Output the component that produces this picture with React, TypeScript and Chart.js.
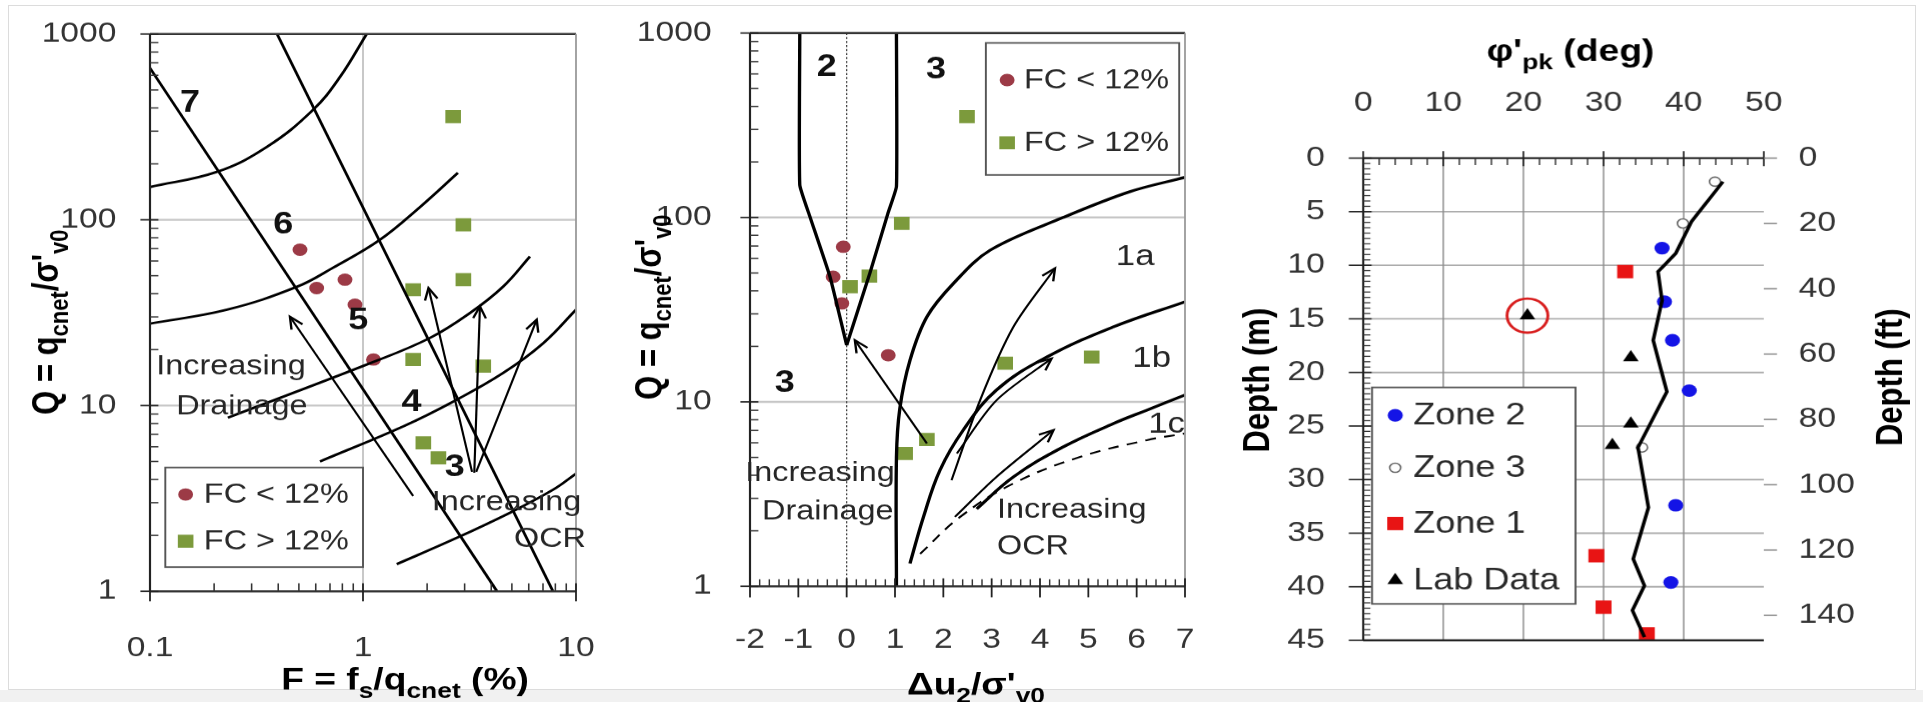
import { useEffect, useRef } from 'react';
import { Chart, registerables } from 'chart.js';

Chart.register(...registerables);

const K = 1.2; // the original figure is stretched horizontally
const H = 702;
const FONT = '"Liberation Sans", Arial, Helvetica, sans-serif';
const TICK_COLOR = '#333333';
const GRID = '#c6c6c6';

// ---------------- Panel 1 : Q vs F (log-log) ----------------
const P1_X_TICKS = [0.1, 1, 10];
const P1_Y_TICKS = [1, 10, 100, 1000];
const P1_H_GRID = [10, 100];
const P1_V_GRID = [1];
const P1_FC_LOW = [[0.506, 69], [0.606, 42.9], [0.823, 47.6], [0.917, 34.9], [1.12, 17.7]];
const P1_FC_HIGH = [[2.65, 359], [2.96, 94], [2.96, 47.6], [1.72, 42], [1.72, 17.7], [3.67, 16.3], [1.92, 6.3], [2.26, 5.23]];
const P1_LINE_A = [[0.1, 656], [4.26, 1]];
const P1_LINE_B = [[0.395, 1000], [7.8, 1]];
const P1_ARC_1 = [[0.1, 150], [0.206, 181], [0.354, 247], [0.582, 390], [0.78, 587], [1.04, 1000]];
const P1_ARC_2 = [[0.1, 27.6], [0.23, 32.8], [0.49, 43.6], [0.723, 55.2], [1.2, 78], [1.85, 117], [2.79, 179]];
const P1_ARC_3 = [[0.232, 8.6], [1.08, 16.9], [2.06, 23.1], [3.18, 31.5], [4.56, 43.8], [6.08, 63.5]];
const P1_ARC_4 = [[0.628, 5.0], [1.55, 7.74], [2.65, 10.5], [4.56, 15.0], [7.03, 21.7], [10, 32.8]];
const P1_ARC_5 = [[1.44, 1.4], [2.65, 1.9], [4.9, 2.65], [7.83, 3.53], [10, 4.3]];
const P1_ARROW_DRAIN = [[1.72, 3.26], [0.454, 30.1]];
const P1_ARROW_OCR_1 = [[3.25, 4.4], [2.03, 43]];
const P1_ARROW_OCR_2 = [[3.33, 4.35], [3.54, 34.2]];
const P1_ARROW_OCR_3 = [[3.4, 4.4], [6.54, 29]];
const P1_LABELS = [
  { t: '7', x: 0.154, y: 424, bold: true, size: 30 },
  { t: '6', x: 0.422, y: 94, bold: true, size: 30 },
  { t: '5', x: 0.95, y: 28.4, bold: true, size: 30 },
  { t: '4', x: 1.69, y: 10.3, bold: true, size: 30 },
  { t: '3', x: 2.7, y: 4.62, bold: true, size: 30 },
  { t: 'Increasing', x: 0.24, y: 16.2 },
  { t: 'Drainage', x: 0.27, y: 9.88 },
  { t: 'Increasing', x: 4.72, y: 3.0 },
  { t: 'OCR', x: 7.55, y: 1.9 },
];
const P1_LEGEND_BOX = [0.118, 4.64, 1.0, 1.35];
const P1_LEGEND_MARK_X = 0.147;
const P1_LEGEND_TEXT_X = 0.179;
const P1_LEGEND_ROWS = [3.32, 1.86];

// ---------------- Panel 2 : Q vs du2/s'v0 ----------------
const P2_X_TICKS = [-2, -1, 0, 1, 2, 3, 4, 5, 6, 7];
const P2_Y_TICKS = [1, 10, 100, 1000];
const P2_H_GRID = [10, 100];
const P2_FC_LOW = [[-0.07, 69.4], [-0.28, 47.7], [-0.1, 34.2], [0.86, 17.9]];
const P2_FC_HIGH = [[1.14, 92.9], [0.47, 48.1], [0.07, 42.1], [1.66, 6.25], [1.21, 5.25], [3.28, 16.2], [5.07, 17.5], [2.49, 352]];
const P2_ZONE2_LEFT = [[-0.97, 1000], [-0.97, 150], [-0.76, 101], [-0.345, 47.7], [0, 20.3]];
const P2_ZONE2_RIGHT = [[1.03, 1000], [1.03, 147], [0.855, 105.6], [0.48, 49.9], [0, 20.3]];
const P2_1A_TOP = [[1.03, 1], [1.03, 5], [1.1, 9.2], [1.31, 16.8], [1.66, 28.9], [2.21, 43.9], [2.97, 66.5], [4.48, 100], [5.86, 138], [7, 165]];
const P2_1A_1B = [[1.31, 1.33], [1.59, 2.38], [1.93, 4.26], [2.41, 7.02], [3.1, 11.6], [4.14, 17.5], [5.52, 25.5], [7, 34.9]];
const P2_1B_1C = [[2.69, 2.63], [3.45, 3.92], [4.48, 5.7], [5.52, 7.63], [6.21, 9.02], [7, 10.9]];
const P2_DASHED = [[1.52, 1.5], [2.35, 2.38], [3.45, 3.61], [4.83, 5.03], [6.21, 6.2], [7, 6.74]];
const P2_ARROW_DRAIN = [[1.66, 5.95], [0.17, 21.6]];
const P2_ARROW_OCR_A = [[2.17, 3.76], [2.76, 10.2], [3.45, 25.5], [4.31, 53]];
const P2_ARROW_OCR_B = [[2.28, 5.25], [3.1, 10.2], [4.24, 17.2]];
const P2_ARROW_OCR_C = [[2.24, 2.38], [3.1, 3.92], [4.28, 7.03]];
const P2_LABELS = [
  { t: '2', x: -0.41, y: 646, bold: true, size: 30 },
  { t: '3', x: 1.85, y: 631, bold: true, size: 30 },
  { t: '3', x: -1.28, y: 12.6, bold: true, size: 30 },
  { t: '1a', x: 5.97, y: 61, size: 29 },
  { t: '1b', x: 6.31, y: 17.2, size: 29 },
  { t: '1c', x: 6.62, y: 7.48, size: 29 },
  { t: 'Increasing', x: -0.55, y: 4.1 },
  { t: 'Drainage', x: -0.39, y: 2.52 },
  { t: 'Increasing', x: 3.11, y: 2.58, align: 'left' },
  { t: 'OCR', x: 3.11, y: 1.63, align: 'left' },
];
const P2_LEGEND_BOX = [2.88, 884, 6.88, 170];
const P2_LEGEND_MARK_X = 3.32;
const P2_LEGEND_TEXT_X = 3.67;
const P2_LEGEND_ROWS = [556, 254];

// ---------------- Panel 3 : friction angle vs depth ----------------
const P3_X_TICKS = [0, 10, 20, 30, 40, 50];
const P3_Y_TICKS = [0, 5, 10, 15, 20, 25, 30, 35, 40, 45];
const P3_FT_TICKS = [0, 20, 40, 60, 80, 100, 120, 140];
const P3_V_GRID = [10, 20, 30, 40];
const P3_H_GRID = [5, 10, 15, 20, 25, 30, 35, 40];
const P3_ZONE2 = [[37.3, 8.4], [37.6, 13.4], [38.6, 17.0], [40.7, 21.7], [39.0, 32.4], [38.4, 39.6]];
const P3_ZONE3 = [[43.9, 2.2], [39.9, 6.1], [34.8, 27.0]];
const P3_ZONE1 = [[32.7, 10.6], [29.1, 37.1], [30.0, 41.9], [35.4, 44.4]];
const P3_LAB = [[20.5, 14.7], [33.4, 18.6], [33.4, 24.8], [31.1, 26.8]];
const P3_CIRCLED = [[20.5, 14.7]];
const P3_PROFILE = [[44.9, 2.2], [41.0, 5.9], [39.0, 8.9], [36.8, 10.6], [37.3, 13.3], [36.2, 17.0], [37.9, 21.8], [34.3, 27.0], [35.6, 32.6], [33.7, 37.4], [35.1, 39.9], [33.6, 42.2], [35.1, 44.7]];
const P3_LEGEND_BOX = [1.1, 21.4, 26.5, 41.6];
const P3_LEGEND_MARK_X = 4.0;
const P3_LEGEND_TEXT_X = 6.25;
const P3_LEGEND_ROWS = [24.0, 28.9, 34.1, 39.4];
const P3_LEGEND_LABELS = ['Zone 2', 'Zone 3', 'Zone 1', 'Lab Data'];
const M_PER_FT = 0.3048;

// ---------------- styles ----------------
const RED_C = '#9c3a46';
const GREEN_S = '#7c9a3c';
const BLUE = '#1414e6';
const RED_SQ = '#e81414';

type Mk = { style: string; r: number; fill: string; stroke: string; lw: number };
const MK_FC_LOW: Mk = { style: 'circle', r: 6.2, fill: RED_C, stroke: RED_C, lw: 0 };
const MK_FC_HIGH: Mk = { style: 'rect', r: 9.2, fill: GREEN_S, stroke: GREEN_S, lw: 0 };
const MK_Z2: Mk = { style: 'circle', r: 6.3, fill: BLUE, stroke: BLUE, lw: 0 };
const MK_Z3: Mk = { style: 'circle', r: 4.6, fill: '#ffffff', stroke: '#666666', lw: 1.3 };
const MK_Z1: Mk = { style: 'rect', r: 9.4, fill: RED_SQ, stroke: RED_SQ, lw: 0 };
const MK_LAB: Mk = { style: 'triangle', r: 7.5, fill: '#000000', stroke: '#000000', lw: 0 };

const TITLES = {
  p1x: [337.5, 678], p1y: [37.5, 322],
  p2x: [300.8, 683], p2y: [27.5, 307],
  p3top: [285, 50], p3left: [23.3, 380], p3right: [550, 377],
};

// ---------------- helpers ----------------
type P = number[][];
const pts = (a: P) => a.map(([x, y]) => ({ x, y }));

function seg(ctx: CanvasRenderingContext2D, x1: number, y1: number, x2: number, y2: number, color: string, w: number, dash?: number[]) {
  ctx.save();
  ctx.beginPath();
  ctx.strokeStyle = color;
  ctx.lineWidth = w;
  ctx.setLineDash(dash || []);
  ctx.moveTo(x1, y1);
  ctx.lineTo(x2, y2);
  ctx.stroke();
  ctx.restore();
}

type Seg = { t: string; sub?: boolean };
function richText(ctx: CanvasRenderingContext2D, segs: Seg[], x: number, y: number, size: number, rot = 0) {
  ctx.save();
  ctx.translate(x, y);
  ctx.rotate(rot);
  const f = (s: Seg) => `bold ${s.sub ? Math.round(size * 0.72) : size}px ${FONT}`;
  let total = 0;
  for (const s of segs) { ctx.font = f(s); total += ctx.measureText(s.t).width; }
  let cx = -total / 2;
  ctx.fillStyle = '#000';
  ctx.textAlign = 'left';
  ctx.textBaseline = 'alphabetic';
  for (const s of segs) {
    ctx.font = f(s);
    ctx.fillText(s.t, cx, s.sub ? size * 0.62 : size * 0.36);
    cx += ctx.measureText(s.t).width;
  }
  ctx.restore();
}

function marker(ctx: CanvasRenderingContext2D, m: Mk, x: number, y: number) {
  ctx.save();
  ctx.beginPath();
  if (m.style === 'circle') ctx.arc(x, y, m.r, 0, Math.PI * 2);
  else if (m.style === 'rect') { const s = m.r * Math.SQRT1_2; ctx.rect(x - s, y - s, 2 * s, 2 * s); }
  else {
    let a = 0;
    ctx.moveTo(x + Math.sin(a) * m.r, y - Math.cos(a) * m.r);
    a += (2 * Math.PI) / 3; ctx.lineTo(x + Math.sin(a) * m.r, y - Math.cos(a) * m.r);
    a += (2 * Math.PI) / 3; ctx.lineTo(x + Math.sin(a) * m.r, y - Math.cos(a) * m.r);
    ctx.closePath();
  }
  ctx.fillStyle = m.fill;
  ctx.fill();
  if (m.lw > 0) { ctx.lineWidth = m.lw; ctx.strokeStyle = m.stroke; ctx.stroke(); }
  ctx.restore();
}

function drawLegend(chart: any, box: number[], mx: number, tx: number, rows: number[], labels: string[], marks: Mk[], size: number) {
  const { ctx, scales: { x, y } } = chart;
  const x1 = x.getPixelForValue(box[0]), y1 = y.getPixelForValue(box[1]);
  const x2 = x.getPixelForValue(box[2]), y2 = y.getPixelForValue(box[3]);
  ctx.save();
  ctx.fillStyle = '#ffffff';
  ctx.fillRect(x1, y1, x2 - x1, y2 - y1);
  ctx.strokeStyle = '#555555';
  ctx.lineWidth = 1.6;
  ctx.strokeRect(x1, y1, x2 - x1, y2 - y1);
  ctx.font = `${size}px ${FONT}`;
  ctx.fillStyle = '#2a2a2a';
  ctx.textAlign = 'left';
  ctx.textBaseline = 'middle';
  rows.forEach((r, i) => {
    const py = y.getPixelForValue(r);
    marker(ctx, marks[i], x.getPixelForValue(mx), py);
    ctx.fillText(labels[i], x.getPixelForValue(tx), py + 1);
  });
  ctx.restore();
}

type Ann = { t: string; x: number; y: number; bold?: boolean; size?: number; align?: string };
function drawAnns(chart: any, anns: Ann[]) {
  const { ctx, scales: { x, y } } = chart;
  ctx.save();
  for (const a of anns) {
    ctx.font = `${a.bold ? 'bold ' : ''}${a.size ?? 27}px ${FONT}`;
    ctx.fillStyle = a.bold ? '#111' : '#262626';
    ctx.textAlign = (a.align ?? 'center') as CanvasTextAlign;
    ctx.textBaseline = 'middle';
    ctx.fillText(a.t, x.getPixelForValue(a.x), y.getPixelForValue(a.y));
  }
  ctx.restore();
}

function arrowHeads(chart: any) {
  const { ctx } = chart;
  chart.data.datasets.forEach((ds: any, i: number) => {
    if (!ds.arrow) return;
    const d = chart.getDatasetMeta(i).data;
    const n = d.length;
    const p = d[n - 1], q = d[n - 2];
    let fx = q.x, fy = q.y;
    if (p.cp1x !== undefined && Math.hypot(p.x - p.cp1x, p.y - p.cp1y) > 2) { fx = p.cp1x; fy = p.cp1y; }
    const a = Math.atan2(p.y - fy, p.x - fx);
    const len = 13, ang = 0.42;
    ctx.save();
    ctx.beginPath();
    ctx.strokeStyle = '#000';
    ctx.lineWidth = 2;
    ctx.moveTo(p.x - len * Math.cos(a - ang), p.y - len * Math.sin(a - ang));
    ctx.lineTo(p.x, p.y);
    ctx.lineTo(p.x - len * Math.cos(a + ang), p.y - len * Math.sin(a + ang));
    ctx.stroke();
    ctx.restore();
  });
}

function logYTicks(ctx: CanvasRenderingContext2D, y: any, x0: number, majors: number[]) {
  for (let i = 0; i < majors.length - 1; i++) {
    for (let m = 2; m <= 9; m++) {
      const yy = y.getPixelForValue(majors[i] * m);
      seg(ctx, x0, yy, x0 + 7, yy, '#333', 1.3);
    }
  }
  for (const v of majors) { const yy = y.getPixelForValue(v); seg(ctx, x0 - 8, yy, x0 + 7, yy, '#222', 1.5); }
}

const lineDS = (data: P, extra: any = {}) => ({
  data: pts(data), showLine: true, borderColor: '#000', borderWidth: 2.4,
  pointRadius: 0, pointHoverRadius: 0, tension: 0.4, fill: false, ...extra,
});
const markDS = (data: P, m: Mk, extra: any = {}) => ({
  data: pts(data), showLine: false, pointStyle: m.style, pointRadius: m.r, pointHoverRadius: m.r,
  backgroundColor: m.fill, borderColor: m.stroke, borderWidth: m.lw, ...extra,
});

const tickFont = { family: FONT, size: 28 };
const fmt = (v: number) => (v < 1 && v > 0 ? String(v) : String(Math.round(v)));

function axis(type: string, min: number, max: number, position: string, ticks: number[], size: number, padding: number, extra: any = {}) {
  const vertical = position === 'left' || position === 'right';
  return {
    type, min, max, position,
    grid: { display: false, drawTicks: false },
    border: { display: false },
    afterBuildTicks: (s: any) => { s.ticks = ticks.map((v) => ({ value: v })); },
    afterFit: (s: any) => {
      if (vertical) s.width = size; else s.height = size;
      s.paddingTop = 0; s.paddingBottom = 0; s.paddingLeft = 0; s.paddingRight = 0;
    },
    ticks: { padding, font: tickFont, color: TICK_COLOR, autoSkip: false, maxRotation: 0, minRotation: 0, callback: (v: number) => fmt(v) },
    ...extra,
  };
}

const common = {
  responsive: false,
  animation: false,
  devicePixelRatio: K,
  events: [],
  plugins: { legend: { display: false }, tooltip: { enabled: false }, title: { display: false } },
};

// ---------------- panel configs ----------------
function panel1() {
  const plugin = {
    id: 'p1decor',
    beforeDatasetsDraw(chart: any) {
      const { ctx, chartArea: a, scales: { x, y } } = chart;
      for (const v of P1_H_GRID) { const yy = y.getPixelForValue(v); seg(ctx, a.left, yy, a.right, yy, GRID, 2); }
      for (const v of P1_V_GRID) { const xx = x.getPixelForValue(v); seg(ctx, xx, a.top, xx, a.bottom, GRID, 1.6); }
    },
    afterDatasetsDraw(chart: any) {
      const { ctx, chartArea: a, scales: { x, y } } = chart;
      seg(ctx, a.left, a.top, a.right, a.top, '#333', 2.2);
      seg(ctx, a.right, a.top, a.right, a.bottom, '#9a9a9a', 1.5);
      seg(ctx, a.left, a.bottom, a.right, a.bottom, '#333', 2);
      seg(ctx, a.left, a.top, a.left, a.bottom, '#222', 1.8);
      logYTicks(ctx, y, a.left, P1_Y_TICKS);
      for (let i = 0; i < P1_X_TICKS.length - 1; i++) {
        for (let m = 2; m <= 9; m++) { const xx = x.getPixelForValue(P1_X_TICKS[i] * m); seg(ctx, xx, a.bottom, xx, a.bottom - 8, '#333', 1.3); }
      }
      for (const v of P1_X_TICKS) { const xx = x.getPixelForValue(v); seg(ctx, xx, a.bottom - 8, xx, a.bottom + 10, '#222', 1.5); }
      arrowHeads(chart);
      drawAnns(chart, P1_LABELS as Ann[]);
      drawLegend(chart, P1_LEGEND_BOX, P1_LEGEND_MARK_X, P1_LEGEND_TEXT_X, P1_LEGEND_ROWS, ['FC < 12%', 'FC > 12%'], [MK_FC_LOW, MK_FC_HIGH], 27);
      richText(ctx, [{ t: 'F = f' }, { t: 's', sub: true }, { t: '/q' }, { t: 'cnet', sub: true }, { t: ' (%)' }], TITLES.p1x[0], TITLES.p1x[1], 31);
      richText(ctx, [{ t: 'Q = q' }, { t: 'cnet', sub: true }, { t: "/σ'" }, { t: 'v0', sub: true }], TITLES.p1y[0], TITLES.p1y[1], 31, -Math.PI / 2);
    },
  };
  return {
    type: 'scatter',
    data: {
      datasets: [
        lineDS(P1_LINE_A, { tension: 0 }),
        lineDS(P1_LINE_B, { tension: 0 }),
        lineDS(P1_ARC_1), lineDS(P1_ARC_2), lineDS(P1_ARC_3), lineDS(P1_ARC_4), lineDS(P1_ARC_5),
        lineDS(P1_ARROW_DRAIN, { tension: 0, borderWidth: 1.8, arrow: true }),
        lineDS(P1_ARROW_OCR_1, { tension: 0, borderWidth: 1.8, arrow: true }),
        lineDS(P1_ARROW_OCR_2, { tension: 0, borderWidth: 1.8, arrow: true }),
        lineDS(P1_ARROW_OCR_3, { tension: 0, borderWidth: 1.8, arrow: true }),
        markDS(P1_FC_LOW, MK_FC_LOW),
        markDS(P1_FC_HIGH, MK_FC_HIGH),
      ],
    },
    options: {
      ...common,
      layout: { padding: { left: 0, right: 45, top: 34, bottom: 0 } },
      scales: {
        x: axis('logarithmic', 0.1, 10, 'bottom', P1_X_TICKS, 111, 40),
        y: axis('logarithmic', 1, 1000, 'left', P1_Y_TICKS, 125, 28),
      },
    },
    plugins: [plugin],
  };
}

function panel2() {
  const plugin = {
    id: 'p2decor',
    beforeDatasetsDraw(chart: any) {
      const { ctx, chartArea: a, scales: { x, y } } = chart;
      for (const v of P2_H_GRID) { const yy = y.getPixelForValue(v); seg(ctx, a.left, yy, a.right, yy, GRID, 2); }
      const x0 = x.getPixelForValue(0);
      seg(ctx, x0, a.top, x0, a.bottom, '#333', 1, [2, 2]);
    },
    afterDatasetsDraw(chart: any) {
      const { ctx, chartArea: a, scales: { x, y } } = chart;
      seg(ctx, a.left, a.top, a.right, a.top, '#333', 2.2);
      seg(ctx, a.right, a.top, a.right, a.bottom, '#9a9a9a', 1.5);
      seg(ctx, a.left, a.bottom, a.right, a.bottom, '#333', 2);
      seg(ctx, a.left, a.top, a.left, a.bottom, '#222', 1.8);
      logYTicks(ctx, y, a.left, P2_Y_TICKS);
      for (let v = -2; v <= 7.001; v += 0.2) {
        const xx = x.getPixelForValue(v);
        const major = Math.abs(v - Math.round(v)) < 1e-6;
        if (major) seg(ctx, xx, a.bottom - 8, xx, a.bottom + 11, '#222', 1.5);
        else seg(ctx, xx, a.bottom, xx, a.bottom - 7, '#333', 1.2);
      }
      arrowHeads(chart);
      drawAnns(chart, P2_LABELS as Ann[]);
      drawLegend(chart, P2_LEGEND_BOX, P2_LEGEND_MARK_X, P2_LEGEND_TEXT_X, P2_LEGEND_ROWS, ['FC < 12%', 'FC > 12%'], [MK_FC_LOW, MK_FC_HIGH], 27);
      richText(ctx, [{ t: 'Δu' }, { t: '2', sub: true }, { t: "/σ'" }, { t: 'v0', sub: true }], TITLES.p2x[0], TITLES.p2x[1], 31);
      richText(ctx, [{ t: 'Q = q' }, { t: 'cnet', sub: true }, { t: "/σ'" }, { t: 'v0', sub: true }], TITLES.p2y[0], TITLES.p2y[1], 31, -Math.PI / 2);
    },
  };
  return {
    type: 'scatter',
    data: {
      datasets: [
        lineDS(P2_ZONE2_LEFT, { tension: 0.12, borderWidth: 2.8 }),
        lineDS(P2_ZONE2_RIGHT, { tension: 0.12, borderWidth: 2.8 }),
        lineDS(P2_1A_TOP, { borderWidth: 2.8, tension: 0.35 }),
        lineDS(P2_1A_1B, { borderWidth: 2.8 }),
        lineDS(P2_1B_1C, { borderWidth: 2.8 }),
        lineDS(P2_DASHED, { borderWidth: 1.8, borderDash: [9, 7] }),
        lineDS(P2_ARROW_DRAIN, { tension: 0, borderWidth: 1.8, arrow: true }),
        lineDS(P2_ARROW_OCR_A, { tension: 0.3, borderWidth: 1.8, arrow: true }),
        lineDS(P2_ARROW_OCR_B, { tension: 0.3, borderWidth: 1.8, arrow: true }),
        lineDS(P2_ARROW_OCR_C, { tension: 0.3, borderWidth: 1.8, arrow: true }),
        markDS(P2_FC_LOW, MK_FC_LOW),
        markDS(P2_FC_HIGH, MK_FC_HIGH),
      ],
    },
    options: {
      ...common,
      layout: { padding: { left: 0, right: 35, top: 33, bottom: 0 } },
      scales: {
        x: axis('linear', -2, 7, 'bottom', P2_X_TICKS, 116, 37),
        y: axis('logarithmic', 1, 1000, 'left', P2_Y_TICKS, 112.5, 32),
      },
    },
    plugins: [plugin],
  };
}

function panel3() {
  const plugin = {
    id: 'p3decor',
    beforeDatasetsDraw(chart: any) {
      const { ctx, chartArea: a, scales: { x, y } } = chart;
      for (const v of P3_H_GRID) { const yy = y.getPixelForValue(v); seg(ctx, a.left, yy, a.right, yy, '#ababab', 1.6); }
      for (const v of P3_V_GRID) { const xx = x.getPixelForValue(v); seg(ctx, xx, a.top, xx, a.bottom, '#8c8c8c', 1.2); }
    },
    afterDatasetsDraw(chart: any) {
      const { ctx, chartArea: a, scales: { x, y, y2 } } = chart;
      seg(ctx, a.left, a.top, a.right + 1, a.top, '#222', 2);
      seg(ctx, a.left, a.bottom, a.right, a.bottom, '#222', 2);
      seg(ctx, a.left, a.top, a.left, a.bottom, '#222', 1.8);
      for (let v = 0; v <= 50.001; v += 2) {
        const xx = x.getPixelForValue(v);
        if (v % 10 === 0) seg(ctx, xx, a.top - 7, xx, a.top + 8, '#222', 1.4);
        else seg(ctx, xx, a.top, xx, a.top + 7, '#333', 1.2);
      }
      for (let v = 0; v <= 45.001; v += 0.5) {
        const yy = y.getPixelForValue(v);
        if (Math.abs(v % 5) < 1e-6) seg(ctx, a.left - 12, yy, a.left + 7, yy, '#222', 1.4);
        else seg(ctx, a.left, yy, a.left + 6, yy, '#333', 1.1);
      }
      for (const v of P3_FT_TICKS) { const yy = y2.getPixelForValue(v); seg(ctx, a.right, yy, a.right + 11, yy, '#8a8a8a', 1.4); }
      drawLegend(chart, P3_LEGEND_BOX, P3_LEGEND_MARK_X, P3_LEGEND_TEXT_X, P3_LEGEND_ROWS, P3_LEGEND_LABELS, [MK_Z2, MK_Z3, MK_Z1, MK_LAB], 30);
      richText(ctx, [{ t: "φ'" }, { t: 'pk', sub: true }, { t: ' (deg)' }], TITLES.p3top[0], TITLES.p3top[1], 31);
      richText(ctx, [{ t: 'Depth (m)' }], TITLES.p3left[0], TITLES.p3left[1], 31, -Math.PI / 2);
      richText(ctx, [{ t: 'Depth (ft)' }], TITLES.p3right[0], TITLES.p3right[1], 31, -Math.PI / 2);
    },
  };
  return {
    type: 'scatter',
    data: {
      datasets: [
        lineDS(P3_PROFILE, { tension: 0, borderWidth: 3, xAxisID: 'x', yAxisID: 'y' }),
        markDS(P3_ZONE2, MK_Z2, { xAxisID: 'x', yAxisID: 'y' }),
        markDS(P3_ZONE3, MK_Z3, { xAxisID: 'x', yAxisID: 'y' }),
        markDS(P3_ZONE1, MK_Z1, { xAxisID: 'x', yAxisID: 'y' }),
        markDS(P3_LAB, MK_LAB, { xAxisID: 'x', yAxisID: 'y' }),
        { data: pts(P3_CIRCLED), showLine: false, pointStyle: 'circle', pointRadius: 17, pointHoverRadius: 17, backgroundColor: 'rgba(0,0,0,0)', borderColor: '#d81e1e', borderWidth: 2.4, xAxisID: 'x', yAxisID: 'y' },
      ],
    },
    options: {
      ...common,
      layout: { padding: { left: 0, right: 0, top: 0, bottom: 62 } },
      scales: {
        x: axis('linear', 0, 50, 'top', P3_X_TICKS, 158, 38),
        y: axis('linear', 0, 45, 'left', P3_Y_TICKS, 112.5, 32, { reverse: true }),
        y2: axis('linear', 0, 45 / M_PER_FT, 'right', P3_FT_TICKS, 133.17, 29, { reverse: true }),
      },
    },
    plugins: [plugin],
  };
}

function ChartCanvas({ left, width, build }: { left: number; width: number; build: () => any }) {
  const ref = useRef<HTMLCanvasElement>(null);
  useEffect(() => {
    const c = ref.current;
    if (!c) return;
    const chart = new Chart(c, build());
    return () => chart.destroy();
  }, []);
  return (
    <canvas
      ref={ref}
      width={width}
      height={H}
      style={{ position: 'absolute', left, top: 0, width: width * K, height: H }}
    />
  );
}

export default function App() {
  return (
    <div style={{ position: 'absolute', left: 0, top: 0, width: 1923, height: 702, background: '#ffffff', overflow: 'hidden' }}>
      <div style={{ position: 'absolute', left: 8, top: 5, width: 1906, height: 683, border: '1px solid #dcdcdc' }} />
      <div style={{ position: 'absolute', left: 0, top: 690, width: 1923, height: 12, background: '#f1f1f1' }} />
      <ChartCanvas left={0} width={525} build={panel1} />
      <ChartCanvas left={615} width={510} build={panel2} />
      <ChartCanvas left={1228} width={579} build={panel3} />
    </div>
  );
}
